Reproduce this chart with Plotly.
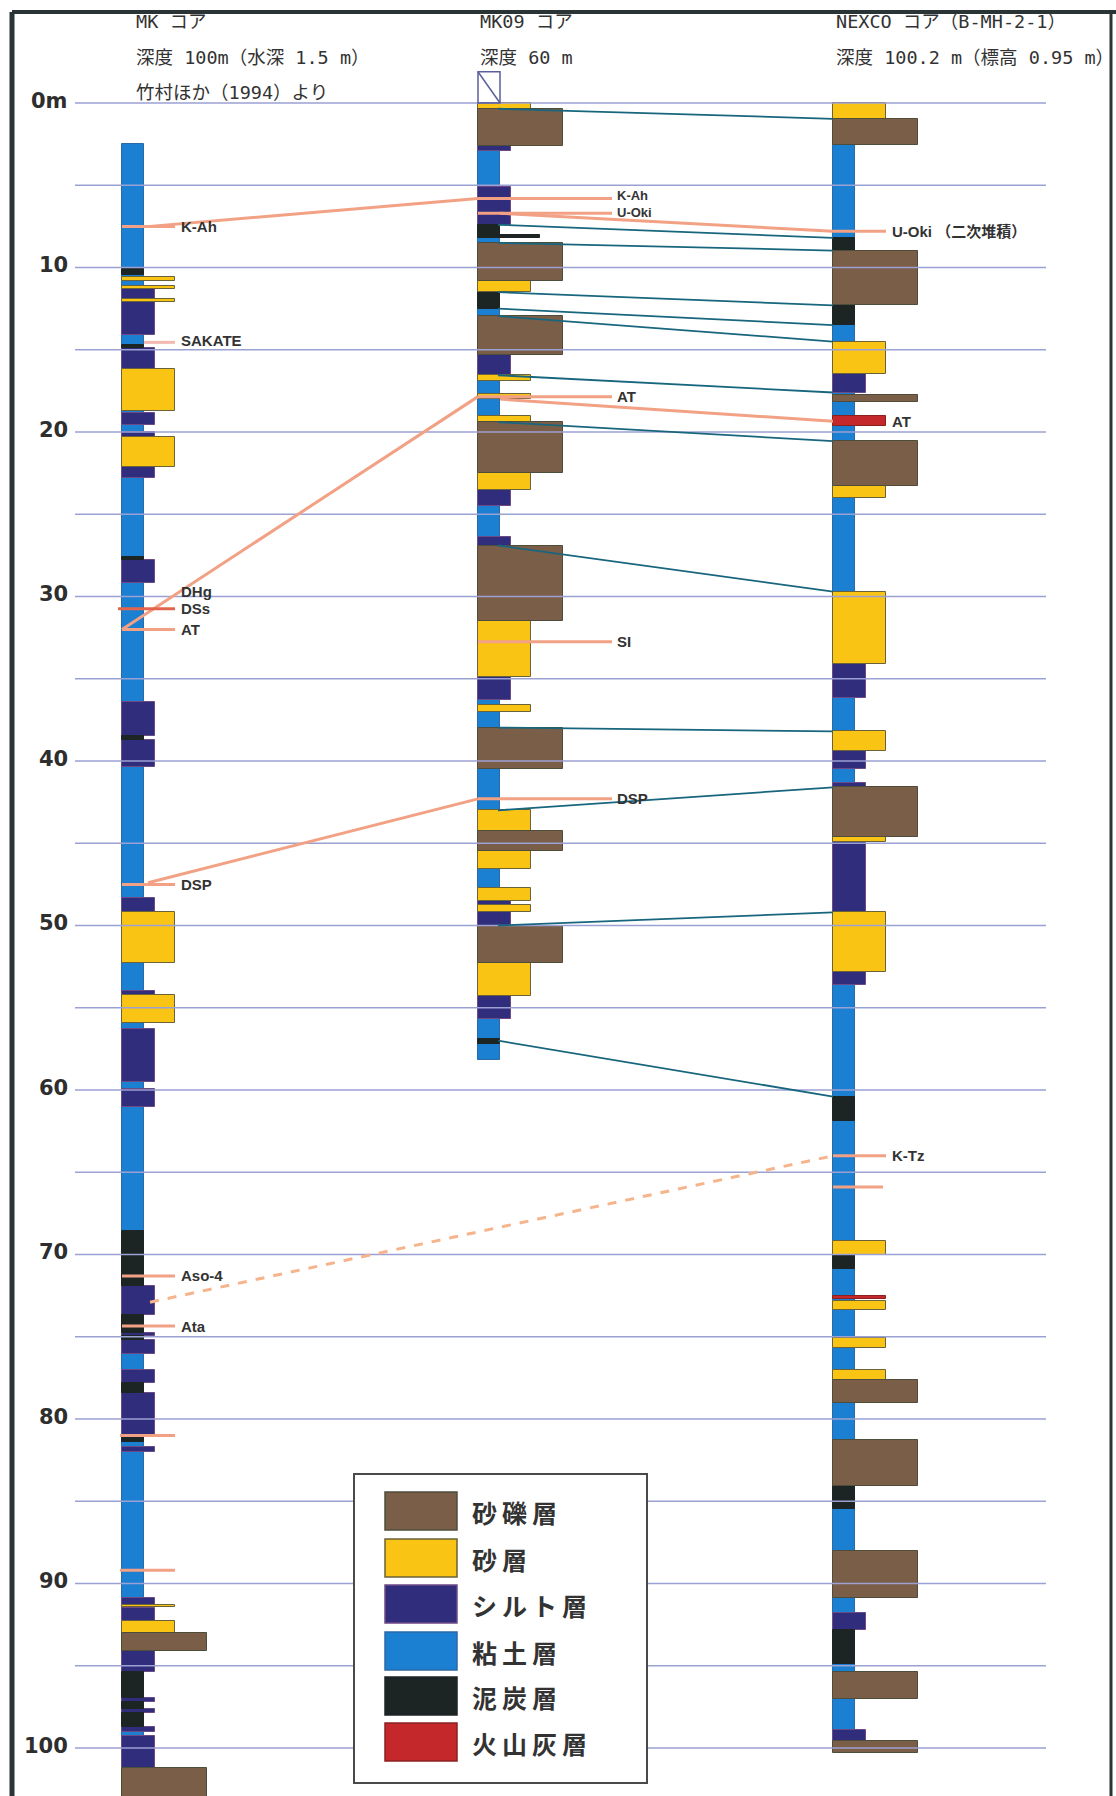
import plotly.graph_objects as go

W, H = 1116, 1796
PX_TOP = 103.0        # pixel row of 0 m
PX_PER_M = 16.45      # pixels per metre of depth
Y_TOP = -PX_TOP / PX_PER_M
Y_BOT = (H - PX_TOP) / PX_PER_M


def d_of(py):
    """pixel row -> depth (m)"""
    return (py - PX_TOP) / PX_PER_M


# ---------------- lithology legend ----------------
LITH_CODES = ["G", "S", "M", "C", "P", "A"]
LITH_NAMES = ["砂礫層", "砂層", "シルト層", "粘土層", "泥炭層", "火山灰層"]
LITH_COLORS = ["#7b5e48", "#f9c414", "#2f2d7c", "#1b7fd2", "#1c2424", "#c5282b"]
LITH_EDGES = ["#4e4d3c", "#6a6238", "#6d4a86", "#2b6aa6", "#1c2424", "#8a2020"]
LITH_WIDTHS = [85, 53, 33, 22, 22, 53]

# ---------------- MK core (depth boundaries + lithology of each interval) ----------------
MK_DEPTHS = [2.5, 10.1, 10.45, 10.6, 10.8, 11.1, 11.3, 11.9, 12.1, 14.1, 14.7, 14.9, 16.2,
             18.7, 18.85, 19.6, 20.0, 20.3, 22.1, 22.8, 27.6, 27.8, 29.2, 36.4, 38.5, 38.7,
             40.35, 48.3, 49.2, 52.3, 54.0, 54.2, 55.9, 56.3, 59.5, 59.95, 61.05, 68.6, 71.9,
             73.7, 74.8, 74.95, 75.2, 76.05, 77.05, 77.8, 78.4, 81.1, 81.4, 81.7, 82.0, 90.9,
             91.3, 91.45, 91.5, 92.25, 93.0, 94.1, 95.4, 96.95, 97.2, 97.6, 97.9, 98.7, 99.0,
             99.3, 101.2, 103.5]
MK_LITH = ["C", "P", "C", "S", "C", "S", "M", "S", "M", "C", "P", "M",
           "S", "C", "M", "C", "M", "S", "M", "C", "P", "M", "C", "M", "P",
           "M", "C", "M", "S", "C", "M", "S", "C", "M", "C", "M", "C", "P",
           "M", "P", "M", "P", "M", "C", "M", "P", "M", "P", "C", "M", "C",
           "M", "S", "C", "M", "S", "G", "M", "P", "M", "P", "M", "P", "M",
           "C", "M", "G"]

# ---------------- MK09 core ----------------
MK09_DEPTHS = [0.0, 0.35, 2.64, 2.9, 5.1, 7.4, 8.05, 8.2, 8.5, 10.8, 11.5, 12.5, 12.95, 15.3,
               16.55, 16.9, 17.7, 18.0, 19.0, 19.4, 22.5, 23.5, 24.5, 26.4, 26.9, 31.5, 34.9,
               36.3, 36.6, 37.05, 37.97, 40.5, 43.0, 44.26, 45.5, 46.55, 47.75, 48.5, 48.75,
               49.2, 50.0, 52.3, 54.3, 55.7, 56.9, 57.2, 58.2]
MK09_LITH = ["S", "G", "M", "C", "M", "P", "PW", "C", "G", "S", "P", "C", "G",
             "M", "S", "C", "S", "C", "S", "G", "S", "M", "C", "M", "G", "S",
             "M", "C", "S", "C", "G", "C", "S", "G", "S", "C", "S", "M", "S",
             "M", "G", "S", "M", "C", "P", "C"]

# ---------------- NEXCO core (B-MH-2-1) ----------------
NX_DEPTHS = [0.0, 0.96, 2.57, 8.2, 8.97, 12.3, 13.5, 14.5, 16.5, 17.6, 17.75, 18.2, 19.05,
             19.65, 20.55, 23.3, 24.0, 29.7, 34.1, 36.2, 38.2, 39.4, 40.5, 41.35, 41.6, 44.6,
             44.9, 49.2, 52.8, 53.6, 60.4, 61.9, 69.2, 70.0, 70.9, 72.55, 72.7, 72.8, 73.35,
             75.05, 75.7, 77.0, 77.6, 79.0, 81.3, 84.1, 85.5, 88.0, 90.9, 91.8, 92.8, 94.9,
             95.4, 97.0, 98.9, 99.6, 100.3]
NX_LITH = ["S", "G", "C", "P", "G", "P", "C", "S", "M", "C", "G", "C",
           "A", "C", "G", "S", "C", "S", "M", "C", "S", "M", "C", "M",
           "G", "S", "M", "S", "M", "C", "P", "C", "S", "P", "C", "A",
           "C", "S", "C", "S", "C", "S", "G", "C", "G", "P", "C", "G",
           "C", "M", "P", "C", "G", "C", "M", "G"]

CORE_LEFT = {"MK": 122, "MK09": 478, "NX": 833}
CORE_DATA = {"MK": (MK_DEPTHS, MK_LITH), "MK09": (MK09_DEPTHS, MK09_LITH), "NX": (NX_DEPTHS, NX_LITH)}

# ---------------- tephra markers ----------------
MK_TEPHRA = ["K-Ah", "SAKATE", "DHg", "DSs", "AT", "DSP", "Aso-4", "Ata"]
MK_TEPHRA_DEPTH = [7.5, 14.45, 29.7, 30.75, 32.0, 47.5, 71.3, 74.35]
MK_EXTRA_TICKS = [81.0, 89.2]
MK09_TEPHRA = ["K-Ah", "U-Oki", "AT", "SI", "DSP"]
MK09_TEPHRA_DEPTH = [5.8, 6.7, 17.85, 32.75, 42.3]
MK09_LABEL_DEPTH = [5.6, 6.65, 17.85, 32.75, 42.3]
NX_TEPHRA = ["U-Oki （二次堆積）", "AT", "K-Tz"]
NX_TEPHRA_DEPTH = [7.8, 19.35, 64.0]
NX_EXTRA_TICKS = [65.9]

# tephra correlations between cores: (core, depth) -> (core, depth)
TEPHRA_LINKS_FROM = [("MK", 7.5), ("MK09", 6.7), ("MK", 32.0), ("MK09", 18.0), ("MK", 47.4)]
TEPHRA_LINKS_TO = [("MK09", 5.8), ("NX", 7.8), ("MK09", 17.85), ("NX", 19.35), ("MK09", 42.3)]
DASHED_LINK = [("MK", 72.9), ("NX", 64.0)]

# lithologic correlations MK09 -> NEXCO
LINK_MK09 = [0.35, 7.4, 8.5, 11.5, 12.5, 12.95, 16.55, 19.4, 26.9, 37.97, 43.0, 50.0, 57.0]
LINK_NX = [0.96, 8.2, 8.97, 12.3, 13.5, 14.5, 17.6, 20.55, 29.7, 38.2, 41.6, 49.2, 60.4]

GRID_DEPTHS = list(range(0, 101, 5))
TICK_DEPTHS = list(range(0, 101, 10))
TICK_TEXT = ["0m"] + [str(v) for v in range(10, 101, 10)]

fig = go.Figure()

# depth gridlines
gx, gy = [], []
for d in GRID_DEPTHS:
    gx += [75, 1046, None]
    gy += [d, d, None]
fig.add_trace(go.Scatter(x=gx, y=gy, mode="lines", line=dict(color="#9ca1d3", width=1.5),
                         hoverinfo="skip", showlegend=False))

# lithologic correlation lines (under the columns)
cx, cy = [], []
for a, b in zip(LINK_MK09, LINK_NX):
    cx += [CORE_LEFT["MK09"] + 20, CORE_LEFT["NX"], None]
    cy += [a, b, None]
fig.add_trace(go.Scatter(x=cx, y=cy, mode="lines", line=dict(color="#17667e", width=1.8),
                         hoverinfo="skip", showlegend=False))

# dashed tephra link (Aso-4 -> K-Tz)
fig.add_trace(go.Scatter(x=[CORE_LEFT[DASHED_LINK[0][0]] + 28, CORE_LEFT[DASHED_LINK[1][0]]],
                         y=[DASHED_LINK[0][1], DASHED_LINK[1][1]], mode="lines",
                         line=dict(color="#f6b48c", width=3, dash="dash"),
                         hoverinfo="skip", showlegend=False))

# core columns, one bar trace per lithology
width_of = dict(zip(LITH_CODES, LITH_WIDTHS))
width_of["PW"] = 62
color_of = dict(zip(LITH_CODES, LITH_COLORS))
color_of["PW"] = LITH_COLORS[4]
edge_of = dict(zip(LITH_CODES, LITH_EDGES))
edge_of["PW"] = LITH_EDGES[4]

for code in ["C", "M", "P", "PW", "S", "G", "A"]:
    xs, bases, hs, ws = [], [], [], []
    for core, (depths, lith) in CORE_DATA.items():
        left = CORE_LEFT[core]
        for i, l in enumerate(lith):
            if l != code:
                continue
            w = width_of[code]
            xs.append(left + w / 2)
            bases.append(depths[i])
            hs.append(depths[i + 1] - depths[i])
            ws.append(w)
    if not xs:
        continue
    fig.add_trace(go.Bar(x=xs, y=hs, base=bases, width=ws,
                         marker=dict(color=color_of[code], line=dict(color=edge_of[code], width=1)),
                         hoverinfo="skip", showlegend=False))

# tephra lines (over the columns)
SALMON = "#f2a184"
tx, ty = [], []
for (ca, da), (cb, db) in zip(TEPHRA_LINKS_FROM, TEPHRA_LINKS_TO):
    if ca == "MK":
        xa = CORE_LEFT[ca] + (28 if da < 20 else (0 if da < 40 else 26))
    else:
        xa = CORE_LEFT[ca] + 22
    tx += [xa, CORE_LEFT[cb], None]
    ty += [da, db, None]
for name, d in zip(MK_TEPHRA, MK_TEPHRA_DEPTH):
    if name in ("DHg", "DSs", "SAKATE"):
        continue
    dd = 7.5 if name == "K-Ah" else d
    tx += [CORE_LEFT["MK"], CORE_LEFT["MK"] + 53, None]
    ty += [dd, dd, None]
for d in MK_EXTRA_TICKS:
    tx += [CORE_LEFT["MK"] - 2, CORE_LEFT["MK"] + 53, None]
    ty += [d, d, None]
for d in MK09_TEPHRA_DEPTH:
    tx += [CORE_LEFT["MK09"], CORE_LEFT["MK09"] + 134, None]
    ty += [d, d, None]
for name, d in zip(NX_TEPHRA, NX_TEPHRA_DEPTH):
    if name == "AT":
        continue
    tx += [CORE_LEFT["NX"], CORE_LEFT["NX"] + 53, None]
    ty += [d, d, None]
for d in NX_EXTRA_TICKS:
    tx += [CORE_LEFT["NX"], CORE_LEFT["NX"] + 50, None]
    ty += [d, d, None]
fig.add_trace(go.Scatter(x=tx, y=ty, mode="lines", line=dict(color=SALMON, width=3),
                         hoverinfo="skip", showlegend=False))
# SAKATE (faint) and DSs (stronger) ticks
fig.add_trace(go.Scatter(x=[CORE_LEFT["MK"] + 22, CORE_LEFT["MK"] + 53], y=[14.55, 14.55], mode="lines",
                         line=dict(color="#f3b8b0", width=3), hoverinfo="skip", showlegend=False))
fig.add_trace(go.Scatter(x=[CORE_LEFT["MK"] - 4, CORE_LEFT["MK"] + 53], y=[30.75, 30.75], mode="lines",
                         line=dict(color="#e2664e", width=3), hoverinfo="skip", showlegend=False))

# MK09 surface box
fig.add_shape(type="rect", xref="x", yref="y", x0=CORE_LEFT["MK09"], x1=CORE_LEFT["MK09"] + 22,
              y0=-1.9, y1=0, line=dict(color="#5b5f9c", width=1.5), fillcolor="rgba(0,0,0,0)")
fig.add_shape(type="line", xref="x", yref="y", x0=CORE_LEFT["MK09"], x1=CORE_LEFT["MK09"] + 22,
              y0=-1.9, y1=0, line=dict(color="#5b5f9c", width=1.5))

LABEL_FONT = dict(family="Liberation Sans, Arial, sans-serif", size=15, color="#333333")


def label(x, d, text, font=LABEL_FONT):
    fig.add_annotation(x=x, y=d, xref="x", yref="y", text=f"<b>{text}</b>", showarrow=False,
                       xanchor="left", yanchor="middle", font=font)


for name, d in zip(MK_TEPHRA, MK_TEPHRA_DEPTH):
    label(CORE_LEFT["MK"] + 57, d, name)
for i, (name, d) in enumerate(zip(MK09_TEPHRA, MK09_LABEL_DEPTH)):
    f = LABEL_FONT if i > 1 else dict(LABEL_FONT, size=13)
    label(CORE_LEFT["MK09"] + 137, d, name, font=f)
for name, d in zip(NX_TEPHRA, NX_TEPHRA_DEPTH):
    label(CORE_LEFT["NX"] + 57, d, name,
          font=dict(family="Liberation Sans, Noto Sans CJK JP, sans-serif", size=15, color="#333333"))

# depth scale labels
for d, t in zip(TICK_DEPTHS, TICK_TEXT):
    fig.add_annotation(x=70, y=d - 0.15, xref="x", yref="y", text=f"<b>{t}</b>", showarrow=False,
                       xanchor="right", yanchor="middle",
                       font=dict(family="DejaVu Sans, sans-serif", size=21, color="#2e2e2e"))

# core headers
HEAD_FONT = dict(family="DejaVu Sans Mono, Noto Sans CJK JP, monospace", size=18.5, color="#333333")
HEADERS = [
    (134, 21, "MK コア"), (134, 57, "深度 100m（水深 1.5 m）"), (134, 92, "竹村ほか（1994）より"),
    (478, 21, "MK09 コア"), (478, 57, "深度 60 m"),
    (834, 21, "NEXCO コア（B-MH-2-1）"), (834, 57, "深度 100.2 m（標高 0.95 m）"),
]
for x, py, t in HEADERS:
    fig.add_annotation(x=x, y=d_of(py), xref="x", yref="y", text=t, showarrow=False,
                       xanchor="left", yanchor="middle", font=HEAD_FONT)

# lithology legend box
fig.add_shape(type="rect", xref="x", yref="y", x0=354, x1=647, y0=d_of(1474), y1=d_of(1783),
              line=dict(color="#4a4a4a", width=2), fillcolor="white", layer="above")
ROW_TOP = [1492, 1539, 1585, 1632, 1677, 1723]
for i, (name, col, edge) in enumerate(zip(LITH_NAMES, LITH_COLORS, LITH_EDGES)):
    y0 = ROW_TOP[i]
    fig.add_shape(type="rect", xref="x", yref="y", x0=385, x1=457, y0=d_of(y0), y1=d_of(y0 + 38),
                  line=dict(color=edge, width=1.5), fillcolor=col, layer="above")
    spaced = "\u2009".join(name)
    fig.add_annotation(x=470, y=d_of(y0 + 20), xref="x", yref="y", text=f"<b>{spaced}</b>",
                       showarrow=False, xanchor="left", yanchor="middle",
                       font=dict(family="Noto Sans CJK JP, sans-serif", size=25, color="#333333"))

# outer frame
FRAME = "#2b3434"
fig.add_shape(type="line", xref="paper", yref="paper", x0=12 / W, x1=1, y0=1 - 12 / H, y1=1 - 12 / H,
              line=dict(color=FRAME, width=4))
fig.add_shape(type="line", xref="paper", yref="paper", x0=12 / W, x1=12 / W, y0=0, y1=1 - 12 / H,
              line=dict(color=FRAME, width=5))
fig.add_shape(type="line", xref="paper", yref="paper", x0=1111 / W, x1=1111 / W, y0=0, y1=1 - 12 / H,
              line=dict(color=FRAME, width=3))

fig.update_layout(
    width=W, height=H, autosize=False,
    margin=dict(l=0, r=0, t=0, b=0),
    paper_bgcolor="white", plot_bgcolor="white",
    barmode="overlay", bargap=0, showlegend=False,
    xaxis=dict(range=[0, W], visible=False, fixedrange=True),
    yaxis=dict(range=[Y_BOT, Y_TOP], visible=False, fixedrange=True),
)

fig.write_html("out.html")
